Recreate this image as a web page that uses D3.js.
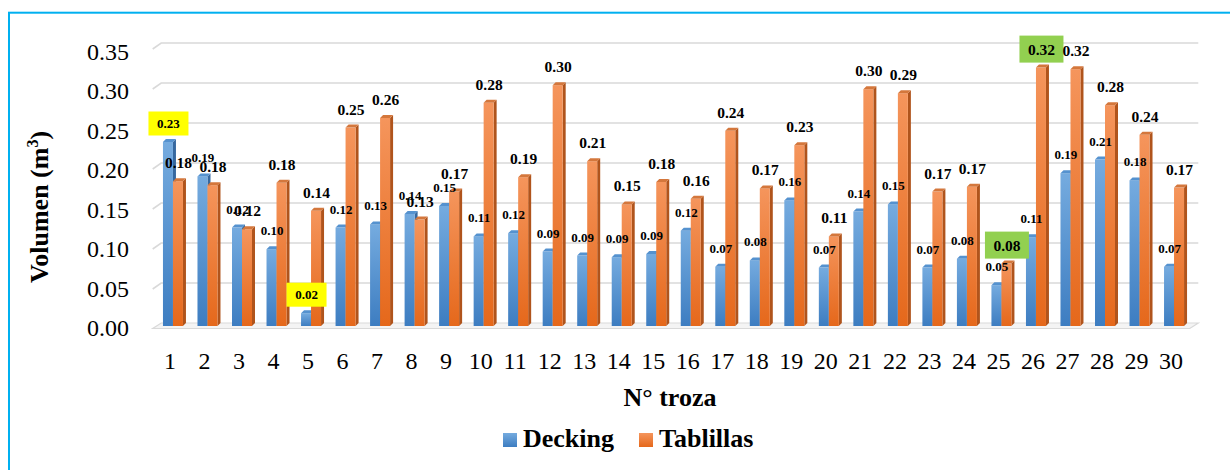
<!DOCTYPE html>
<html>
<head>
<meta charset="utf-8">
<script src="https://cdn.jsdelivr.net/npm/d3@7"></script>
<style>
  html, body { margin: 0; padding: 0; background: #fff; }
  svg { display: block; }
</style>
</head>
<body>
<svg id="chart" width="1230" height="470" style="font-family: 'Liberation Serif', 'Times New Roman', Times, 'DejaVu Serif', serif;"></svg>
<script>
// Volume per log (m³) for the two products
const categories = ["1","2","3","4","5","6","7","8","9","10","11","12","13","14","15",
                    "16","17","18","19","20","21","22","23","24","25","26","27","28","29","30"];
const decking   = [0.230,0.187,0.123,0.096,0.016,0.123,0.127,0.140,0.150,0.112,
                   0.116,0.093,0.088,0.086,0.090,0.119,0.074,0.082,0.157,0.073,
                   0.143,0.152,0.073,0.084,0.051,0.111,0.191,0.208,0.182,0.074];
const tablillas = [0.181,0.176,0.121,0.179,0.144,0.248,0.260,0.133,0.168,0.279,
                   0.186,0.301,0.206,0.152,0.180,0.159,0.244,0.172,0.226,0.112,
                   0.296,0.291,0.168,0.174,0.078,0.323,0.321,0.276,0.239,0.173];
const yTicks = [0, 0.05, 0.10, 0.15, 0.20, 0.25, 0.30, 0.35];
const seriesNames = ["Decking", "Tablillas"];
// Labels shown with a highlight box
const markedDecking = ["1", "5"];
const markedTablillas = ["25", "26"];

const FONT = "'Liberation Serif', 'Times New Roman', Times, 'DejaVu Serif', serif";
const svg = d3.select("#chart");
const fmt = d3.format(".2f");

// Chart frame
svg.append("rect").attr("x", 9).attr("y", 12.7).attr("width", 1240).attr("height", 500)
  .attr("fill", "none").attr("stroke", "#00b0f0").attr("stroke-width", 2);

// Scales: front plane for bars, back wall for gridlines, label column for ticks
const x = d3.scaleBand().domain(categories).range([152.7, 1188.3]);
const y = d3.scaleLinear().domain([0, 0.35]).range([326, 46]);
const yBack = d3.scaleLinear().domain([0, 0.35]).range([323, 43]);
const yLab = d3.scaleLinear().domain([0, 0.35]).range([328.3, 51.7]);
const bw = x.bandwidth();
const [x0, x1] = x.range();
const wallDx = 8.5, wallDy = 6;

// Gradients
const defs = svg.append("defs");
function grad(id, top, bottom) {
  const g = defs.append("linearGradient").attr("id", id)
    .attr("x1", 0).attr("y1", 0).attr("x2", 0).attr("y2", 1);
  g.append("stop").attr("offset", "0%").attr("stop-color", top);
  g.append("stop").attr("offset", "100%").attr("stop-color", bottom);
}
grad("gBlue", "#75abdf", "#3d7dc1");
grad("gOrange", "#f5955c", "#e5681b");

const palette = {
  Decking:   { front: "url(#gBlue)",   side: "#36689f", cap: "#5592cf" },
  Tablillas: { front: "url(#gOrange)", side: "#b0541c", cap: "#d4773c" }
};

function txt(sel) {
  return sel.attr("font-family", FONT).style("font-family", FONT).attr("fill", "#000");
}

// Floor
const floorY = yBack(0);
svg.append("polygon")
  .attr("points", [[x0 + wallDx, floorY], [x1 + 10, floorY], [x1 + 1.5, floorY + 5.5], [x0, floorY + 5.5]].join(" "))
  .attr("fill", "#f4f4f4").attr("stroke", "#d9d9d9").attr("stroke-width", 1.2);

// Gridlines on the back wall
svg.append("g").selectAll("path").data(yTicks.filter(d => d > 0)).join("path")
  .attr("d", d => `M${x0},${yBack(d) + wallDy}L${x0 + wallDx},${yBack(d)}L${x1 + 10},${yBack(d)}`)
  .attr("fill", "none").attr("stroke", "#d9d9d9").attr("stroke-width", 1.6);

// Y tick labels
txt(svg.append("g").selectAll("text").data(yTicks).join("text")
  .attr("x", 129).attr("y", d => yLab(d) + 8)
  .attr("text-anchor", "end").attr("font-size", 24)
  .text(d => fmt(d)));

// X tick labels
txt(svg.append("g").selectAll("text").data(categories).join("text")
  .attr("x", d => x(d) + bw / 2).attr("y", 368.5)
  .attr("text-anchor", "middle").attr("font-size", 24)
  .text(d => d));

// 3D-style columns
const depth = 3;
const barW = 10;
const rows = [];
categories.forEach((c, i) => {
  rows.push({ cat: c, name: "Decking", value: decking[i], left: x(c) + bw / 2 - 7 });
  rows.push({ cat: c, name: "Tablillas", value: tablillas[i], left: x(c) + bw / 2 + 3 });
});

const bars = svg.append("g").selectAll("g").data(rows).join("g");
bars.append("polygon")
  .attr("points", d => {
    const l = d.left + barW, t = y(d.value), b = y(0);
    return [[l, t], [l + depth, t - depth], [l + depth, b - depth], [l, b]].join(" ");
  })
  .attr("fill", d => palette[d.name].side);
bars.append("rect")
  .attr("x", d => d.left).attr("y", d => y(d.value))
  .attr("width", barW).attr("height", d => y(0) - y(d.value))
  .attr("fill", d => palette[d.name].front);
bars.append("polygon")
  .attr("points", d => {
    const l = d.left, t = y(d.value);
    return [[l, t], [l + depth, t - depth], [l + barW + depth, t - depth], [l + barW, t]].join(" ");
  })
  .attr("fill", d => palette[d.name].cap);

// Data labels
const labels = svg.append("g");
rows.forEach(d => {
  const cx = d.left + barW / 2 + 0.5;
  const cy = y(d.value) - 18.5;
  const marked = d.name === "Decking" ? markedDecking.includes(d.cat) : markedTablillas.includes(d.cat);
  if (marked) {
    const big = d.name === "Tablillas";
    const w = big ? 44 : 40, h = big ? 27 : 24;
    labels.append("rect").attr("x", cx - w / 2).attr("y", cy - h / 2)
      .attr("width", w).attr("height", h)
      .attr("fill", big ? "#92d050" : "#ffff00");
  }
  txt(labels.append("text")
    .attr("x", cx).attr("y", cy).attr("dy", "0.35em")
    .attr("text-anchor", "middle").attr("font-weight", "bold")
    .attr("font-size", d.name === "Decking" ? 13 : 15.5)
    .text(fmt(d.value)));
});

// Axis titles
const yTitle = txt(svg.append("text")
  .attr("transform", "translate(48,207) rotate(-90)")
  .attr("text-anchor", "middle").attr("font-size", 26).attr("font-weight", "bold"));
yTitle.append("tspan").text("Volumen (m");
yTitle.append("tspan").attr("font-size", 16).attr("dy", -10).text("3");
yTitle.append("tspan").attr("dy", 10).text(")");

txt(svg.append("text").attr("x", 670).attr("y", 406)
  .attr("text-anchor", "middle").attr("font-size", 26).attr("font-weight", "bold")
  .text("N° troza"));

// Legend
const legendX = [503, 639];
const legend = svg.append("g").selectAll("g").data(seriesNames).join("g")
  .attr("transform", (d, i) => `translate(${legendX[i]},433)`);
legend.append("rect").attr("width", 14).attr("height", 14)
  .attr("fill", d => palette[d].front);
txt(legend.append("text").attr("x", 20).attr("y", 14)
  .attr("font-size", 26).attr("font-weight", "bold")
  .text(d => d));
</script>
</body>
</html>
